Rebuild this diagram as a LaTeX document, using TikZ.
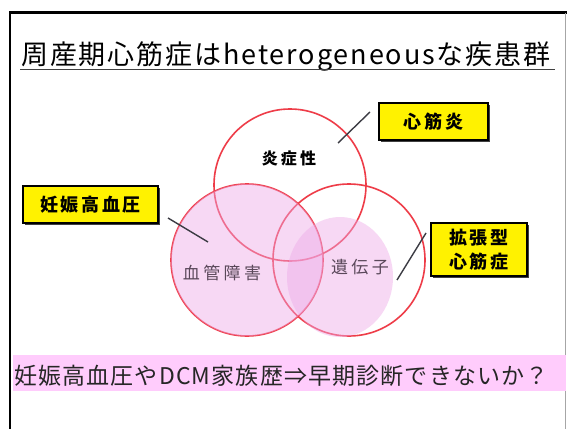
\documentclass[tikz,border=0pt]{standalone}
\usepackage{fontspec}
\setmainfont{Noto Sans CJK JP}
\newfontfamily\boxfont{Noto Sans CJK JP}[LetterSpace=15]
\newfontfamily\lblfont{Noto Sans CJK JP}[LetterSpace=20]
\newfontfamily\titlefont{Noto Sans CJK JP}[LetterSpace=7]
\newfontfamily\bandfont{Noto Sans CJK JP}[LetterSpace=5]
\usetikzlibrary{shadows}
\definecolor{vred}{RGB}{238,60,72}
\definecolor{vpink}{RGB}{238,170,232}
\definecolor{bandpink}{RGB}{255,204,252}
\definecolor{lblgrey}{RGB}{90,72,90}
\definecolor{lnkgrey}{RGB}{60,60,68}
\tikzset{
  venn/.style={circle, draw=vred, line width=1.6pt, minimum size=152pt, inner sep=0pt},
  pinkfill/.style={fill=vpink, fill opacity=0.45},
  tagbox/.style={draw=black, line width=1.1pt, fill=yellow, inner sep=0pt, align=center,
    font=\boxfont\bfseries\fontsize{18}{24}\selectfont,
    drop shadow={shadow xshift=1.6pt, shadow yshift=-1.6pt, fill=black!75, opacity=1}},
  link/.style={draw=lnkgrey, line width=1.4pt},
  vlabel/.style={font=\lblfont\fontsize{17}{19}\selectfont, text=lblgrey},
}
\begin{document}
\begin{tikzpicture}[x=1pt, y=-1pt]
\useasboundingbox (0,0) rectangle (567,428);
\fill[white] (0,0) rectangle (567,428);
% frame
\draw[line width=2.6pt, black] (10,430) -- (10,12.5) -- (570,12.5);
\draw[line width=0.8pt, black!35] (565.5,13) -- (565.5,430);
% title
\node[anchor=base west, inner sep=0pt, font=\titlefont\fontsize{27}{30}\selectfont] (title) at (21,64) {周産期心筋症はheterogeneousな疾患群};
\draw[line width=1.3pt, black!75] (20,69.5) coordinate (ula) -- (555,69.5) coordinate (ulb);
% circles strokes
\node[venn] (c1) at (290,185) {};
\node[venn] (c2) at (247,260) {};
\node[venn] (c3) at (349,260) {};
% fills over strokes
\fill[pinkfill] (c2.center) circle[radius=76];
\fill[pinkfill] (340,277) ellipse[x radius=53, y radius=60];
% labels
\node[font=\lblfont\bfseries\fontsize{16}{18}\selectfont] (l1) at (289,158) {炎症性};
\node[vlabel] (l2) at (222,273) {血管障害};
\node[vlabel] (l3) at (360,267) {遺伝子};
% tag boxes
\node[tagbox, minimum width=109pt, minimum height=37pt] (b1) at (433.5,121.5) {心筋炎};
\node[tagbox, minimum width=135pt, minimum height=37pt] (b2) at (90.5,204.5) {妊娠高血圧};
\node[tagbox, minimum width=96pt, minimum height=53pt] (b3) at (479,249.5) {拡張型\\心筋症};
% connectors
\coordinate (k1a) at (370,112); \coordinate (k1b) at (338,143);
\coordinate (k2a) at (168,218); \coordinate (k2b) at (208,242);
\coordinate (k3a) at (426,233); \coordinate (k3b) at (397,280);
\draw[link] (k1a) -- (k1b);
\draw[link] (k2a) -- (k2b);
\draw[link] (k3a) -- (k3b);
% bottom band
\fill[bandpink] (13,355) rectangle (566,391);
\node[anchor=base west, inner sep=0pt, font=\bandfont\fontsize{23}{26}\selectfont, text=black!85] (band) at (14,384) {妊娠高血圧やDCM家族歴⇒早期診断できないか？};
\end{tikzpicture}
\end{document}
